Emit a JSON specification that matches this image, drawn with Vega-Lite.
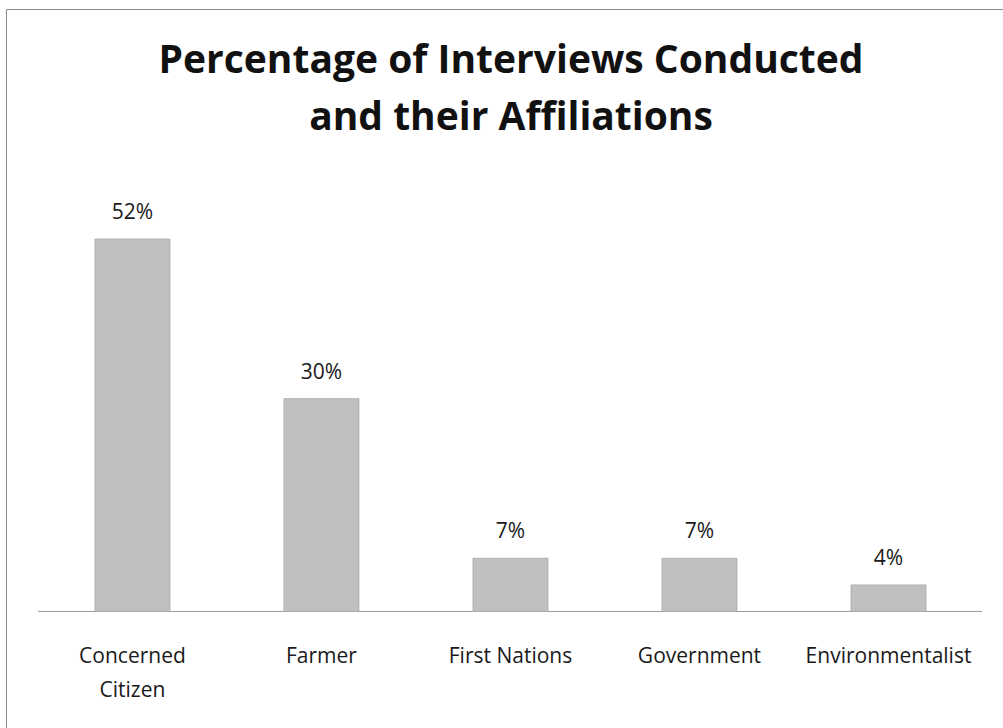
{
  "$schema": "https://vega.github.io/schema/vega-lite/v6.json",
  "width": 997,
  "height": 719,
  "autosize": {"type": "none"},
  "padding": {"left": 6, "top": 9, "right": 0, "bottom": 0},
  "background": "white",
  "config": {"view": {"stroke": null}},
  "title": {
    "text": ["Percentage of Interviews Conducted", "and their Affiliations"],
    "anchor": "middle",
    "frame": "group",
    "orient": "top",
    "baseline": "alphabetic",
    "offset": -160,
    "dx": 6.5,
    "fontSize": 39,
    "font": "Open Sans",
    "fontWeight": "bold",
    "color": "#111111",
    "lineHeight": 57
  },
  "datasets": {
    "bars": [
      {"cat": "Concerned Citizen", "value": 51.85, "label": "52%", "name": "Concerned\nCitizen"},
      {"cat": "Farmer", "value": 29.63, "label": "30%", "name": "Farmer"},
      {"cat": "First Nations", "value": 7.41, "label": "7%", "name": "First Nations"},
      {"cat": "Government", "value": 7.41, "label": "7%", "name": "Government"},
      {"cat": "Environmentalist", "value": 3.7, "label": "4%", "name": "Environmentalist"}
    ],
    "base": [{"start": "Concerned Citizen", "end": "Environmentalist"}]
  },
  "encoding": {
    "x": {
      "field": "cat",
      "type": "nominal",
      "scale": {
        "domain": ["Concerned Citizen", "Farmer", "First Nations", "Government", "Environmentalist"],
        "paddingInner": 0.6032,
        "paddingOuter": 0.439,
        "align": 0.536
      },
      "axis": {"orient": "top", "labels": false, "ticks": false, "grid": false, "title": null, "domainColor": "#8a8a8a", "domainWidth": 1}
    }
  },
  "layer": [
    {
      "data": {"name": "base"},
      "mark": {"type": "rule", "stroke": "#9a9a9a", "strokeWidth": 1},
      "encoding": {
        "x": {"field": "start", "type": "nominal", "bandPosition": -0.76},
        "x2": {"field": "end", "bandPosition": 1.747},
        "y": {"datum": 0, "type": "quantitative", "scale": {"domain": [-16.22, 83.87], "nice": false, "zero": false},
              "axis": {"orient": "left", "labels": false, "ticks": false, "grid": false, "title": null, "domainColor": "#8a8a8a", "domainWidth": 1}}
      }
    },
    {
      "data": {"name": "bars"},
      "mark": {"type": "bar", "fill": "#c0c0c0", "stroke": "#a8a8a8", "strokeWidth": 0.8},
      "encoding": {
        "y": {"field": "value", "type": "quantitative"},
        "y2": {"datum": 0}
      }
    },
    {
      "data": {"name": "bars"},
      "mark": {"type": "text", "font": "Open Sans", "fontSize": 21, "baseline": "alphabetic", "dy": -20, "color": "#1a1a1a"},
      "encoding": {
        "y": {"field": "value", "type": "quantitative"},
        "text": {"field": "label"}
      }
    },
    {
      "data": {"name": "bars"},
      "mark": {"type": "text", "font": "Open Sans", "fontSize": 21, "baseline": "alphabetic", "lineBreak": "\n", "lineHeight": 34, "color": "#1a1a1a"},
      "encoding": {
        "y": {"datum": -7.17, "type": "quantitative"},
        "text": {"field": "name"}
      }
    }
  ]
}
